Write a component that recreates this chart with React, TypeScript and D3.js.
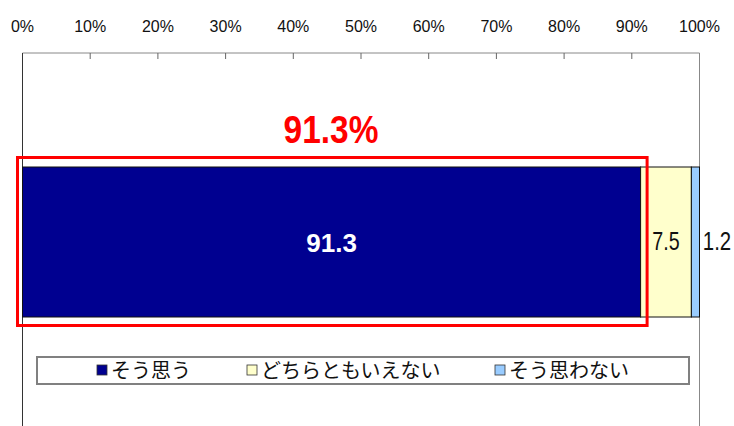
import React from 'react'
import * as d3 from 'd3'

const categories = ['そう思う', 'どちらともいえない', 'そう思わない']
const values = [91.3, 7.5, 1.2]
const colors = ['#000090', '#FFFFCC', '#99CCFF']
const ticks = [0, 10, 20, 30, 40, 50, 60, 70, 80, 90, 100]
const highlight = '91.3%'

const W = 734
const H = 426

export default function App() {
  const x = d3.scaleLinear().domain([0, 100]).range([22.5, 699.5])
  const barTop = 167
  const barH = 150

  let acc = 0
  const segs = values.map((v, i) => {
    const s = { key: categories[i], x0: acc, x1: acc + v, v, color: colors[i] }
    acc += v
    return s
  })

  const legendX = [97, 247, 495]
  const font = '"Liberation Sans", Arial, sans-serif'
  const jp = '"Noto Sans CJK JP", sans-serif'

  // condensed-looking text: stretch vertically
  const T = (props: { x: number; y: number; sx?: number; sy?: number; children: any; [k: string]: any }) => {
    const { x: tx, y: ty, sx = 1, sy = 1, children, ...rest } = props
    return (
      <text transform={`translate(${tx},${ty}) scale(${sx},${sy})`} textAnchor="middle" fontFamily={font} {...rest}>
        {children}
      </text>
    )
  }

  return (
    <svg width={W} height={H} style={{ position: 'absolute', left: 0, top: 0, background: '#fff' }}>
      {/* axis labels */}
      {ticks.map(t => (
        <T key={t} x={x(t)} y={32} sy={1.08} fontSize={16} fill="#111">{t}%</T>
      ))}
      {/* frame */}
      <line x1={x(0)} x2={x(100)} y1={53} y2={53} stroke="#888" />
      <line x1={x(0)} x2={x(0)} y1={53} y2={H} stroke="#333" />
      <line x1={x(100)} x2={x(100)} y1={53} y2={H} stroke="#888" />
      {ticks.slice(1, -1).map(t => (
        <line key={t} x1={x(t)} x2={x(t)} y1={53} y2={59} stroke="#666" />
      ))}
      {/* bars */}
      {segs.map(s => (
        <rect key={s.key} x={x(s.x0)} y={barTop} width={x(s.x1) - x(s.x0)} height={barH}
          fill={s.color} stroke="#111" strokeWidth={1} />
      ))}
      <T x={(x(segs[0].x0) + x(segs[0].x1)) / 2} y={252} fontSize={26} fontWeight="bold" fill="#fff">{values[0]}</T>
      <T x={(x(segs[1].x0) + x(segs[1].x1)) / 2} y={250} sx={0.82} sy={1.05} fontSize={24} fill="#111">{values[1]}</T>
      <T x={717} y={250} sx={0.85} sy={1.05} fontSize={24} fill="#111">{values[2]}</T>
      {/* highlight */}
      <rect x={17.5} y={157.5} width={x(values[0]) - 17.5 + 6.5} height={168} fill="none" stroke="#FF0000" strokeWidth={3} />
      <T x={331} y={143} sx={0.88} fontSize={38} fontWeight="bold" fill="#FF0000">{highlight}</T>
      {/* legend */}
      <rect x={37} y={357} width={652} height={27} fill="#fff" stroke="#808080" strokeWidth={2} />
      {categories.map((c, i) => (
        <g key={c}>
          <rect x={legendX[i]} y={365} width={10} height={10} fill={colors[i]} stroke="#333" strokeWidth={0.8} />
          <text x={legendX[i] + 14} y={378} fontFamily={jp} fontSize={20} fill="#111">{c}</text>
        </g>
      ))}
    </svg>
  )
}
